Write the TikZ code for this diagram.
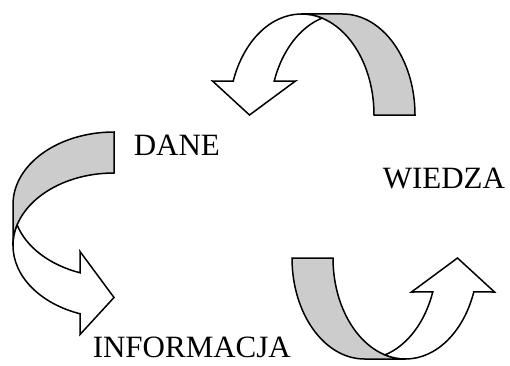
\documentclass[tikz,border=0pt]{standalone}
\usepackage{fontspec}
\setmainfont{Liberation Serif}
\definecolor{ribbongrey}{gray}{0.8}

\tikzset{
  ribbon/.pic={
    \filldraw[fill=ribbongrey] (52,0) -- (93,0)
      arc[start angle=0, end angle=90, x radius=72.5, y radius=101]
      -- (-20.5,101)
      arc[start angle=90, end angle=0, x radius=72.5, y radius=101] -- cycle;
    \filldraw[fill=white] (-20.5,101)
      arc[start angle=90, end angle=160.35, x radius=72.5, y radius=101]
      -- (-109.5,34) -- (-72.5,0) -- (-26.5,34) -- (-47.77,33.96)
      arc[start angle=160.35, end angle=106.43, x radius=72.5, y radius=101]
      arc[start angle=73.57, end angle=90, x radius=72.5, y radius=101] -- cycle;
  },
  word/.style={anchor=base west, inner sep=0pt, font=\fontsize{31}{37}\selectfont}
}

\begin{document}
\begin{tikzpicture}[x=1pt, y=1pt, line width=1.5pt]
\useasboundingbox (0,0) rectangle (510,365);

\pic at (322,250) {ribbon};
\pic[rotate=90] at (114,140) {ribbon};
\pic[rotate=180] at (385,107) {ribbon};

\node[word] (dane)       at (133,210) {DANE};
\node[word] (wiedza)     at (382,177) {WIEDZA};
\node[word] (informacja) at (92,8)    {INFORMACJA};

\end{tikzpicture}
\end{document}
